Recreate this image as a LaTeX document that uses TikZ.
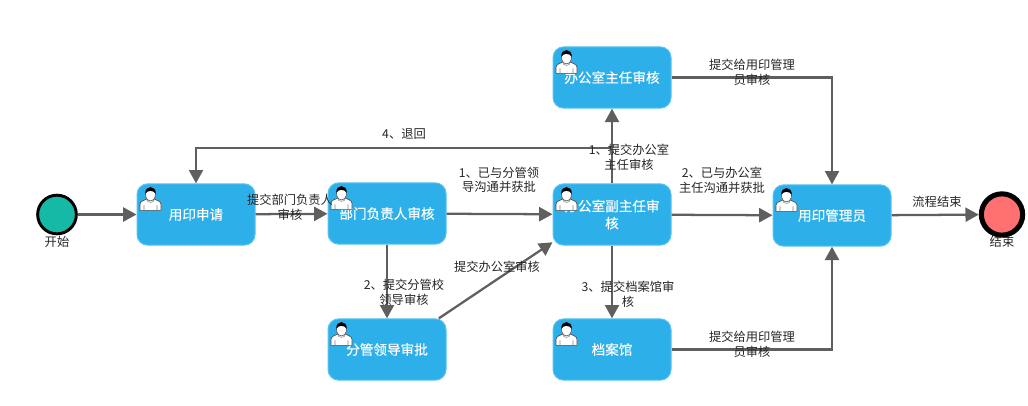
\documentclass[tikz,border=0pt]{standalone}
\usepackage{fontspec}
\setmainfont{Noto Sans CJK SC}
\newfontfamily\taskfont[FakeBold=0.25]{Noto Sans CJK SC}
\usetikzlibrary{arrows.meta, calc}

\begin{document}
\begin{tikzpicture}[x=0.75pt, y=-0.75pt,
    taskbox/.style={draw=taskedge, line width=0.75pt, fill=taskfill, rounded corners=8pt,
      minimum width=88.5pt, minimum height=46pt, inner sep=0pt, align=center, text=white,
      font=\fontsize{10.2}{12.8}\selectfont\taskfont},
    flow/.style={draw=flowgray, line width=1.7pt, -{Triangle[length=10pt, width=10.5pt]}},
    lbl/.style={inner sep=0pt, align=center, text=black!85, font=\fontsize{9.2}{11}\selectfont},
    usericon/.pic={
      \draw[fill=white, draw=black!70, line width=0.5pt]
        (0,24) -- (0,18) .. controls (0,15) and (4,14) .. (7,12.5)
        -- (14,12.5) .. controls (17,14) and (21,15) .. (21,18) -- (21,24) -- cycle;
      \draw[draw=black!50, line width=0.4pt] (4,24) -- (4,19) (17,24) -- (17,19)
        (6.5,13) .. controls (7,17) and (14,17) .. (14.5,13);
      \draw[fill=white, draw=black!70, line width=0.4pt] (10.5,8) ellipse (5 and 6.5);
      \fill[black] (5.3,7.5) .. controls (4.5,-1.5) and (16.5,-1.5) .. (15.7,7.5)
        .. controls (14,3.5) and (7,3.5) .. (5.3,7.5) -- cycle;
    }]
  \definecolor{taskfill}{HTML}{2DB0EA}
  \definecolor{taskedge}{HTML}{5CC3F0}
  \definecolor{flowgray}{HTML}{5F5F5F}
  \definecolor{startfill}{HTML}{15B9A5}
  \definecolor{endfill}{HTML}{FF7070}
  \useasboundingbox (0,0) rectangle (1028,405);

  % start and end events
  \node[circle, draw=black, line width=2.2pt, fill=startfill, minimum size=29pt, inner sep=0pt] (start) at (57,214.5) {};
  \node[circle, draw=black, line width=3.8pt, fill=endfill, minimum size=31pt, inner sep=0pt] (finish) at (1002,214.5) {};

  % tasks
  \node[taskbox] (apply) at (196,214.5) {用印申请};
  \node[taskbox] (dept) at (387,213.5) {部门负责人审核};
  \node[taskbox] (deputy) at (612,214.5) {办公室副主任审\\核};
  \node[taskbox] (office) at (612,77.5) {办公室主任审核};
  \node[taskbox] (leader) at (387,349.5) {分管领导审批};
  \node[taskbox] (archive) at (612,349.5) {档案馆};
  \node[taskbox] (seal) at (832,215.5) {用印管理员};

  \foreach \task in {apply, dept, deputy, office, leader, archive, seal}
    \pic at ($(\task.north west)+(3.5,3)$) {usericon};

  % connectors
  \coordinate (back) at (612,148);
  \draw[flow] (start) -- (apply);
  \draw[flow] (apply) -- (dept);
  \draw[flow] (dept) -- (deputy);
  \draw[flow] (dept) -- (leader);
  \draw[flow] (leader.31) -- (deputy.205);
  \draw[flow] (deputy) -- (office);
  \draw[flow] (deputy) -- (archive);
  \draw[flow] (deputy) -- (seal);
  \draw[flow] (back) -| (apply);
  \draw[flow] (office) -| (seal);
  \draw[flow] (archive) -| (seal);
  \draw[flow] (seal) -- (finish);

  % labels
  \node[lbl] (startlbl) at (57,242) {开始};
  \node[lbl] (finishlbl) at (1002,241.5) {结束};
  \node[lbl] (applylbl) at (290,207.5) {提交部门负责人\\审核};
  \node[lbl] (backlbl) at (404,134) {4、退回};
  \node[lbl] (deptlbl) at (499,180) {1、已与分管领\\导沟通并获批};
  \node[lbl] (officelbl) at (629,157.5) {1、提交办公室\\主任审核};
  \node[lbl] (seallbl) at (722,180.5) {2、已与办公室\\主任沟通并获批};
  \node[lbl] (officeseal) at (752,72) {提交给用印管理\\员审核};
  \node[lbl] (archiveseal) at (752,344.5) {提交给用印管理\\员审核};
  \node[lbl] (finishflow) at (937,202) {流程结束};
  \node[lbl] (leaderlbl) at (404,292.5) {2、提交分管校\\领导审核};
  \node[lbl] (leaderdeputy) at (497,267) {提交办公室审核};
  \node[lbl] (archivelbl) at (628,294) {3、提交档案馆审\\核};
\end{tikzpicture}
\end{document}
